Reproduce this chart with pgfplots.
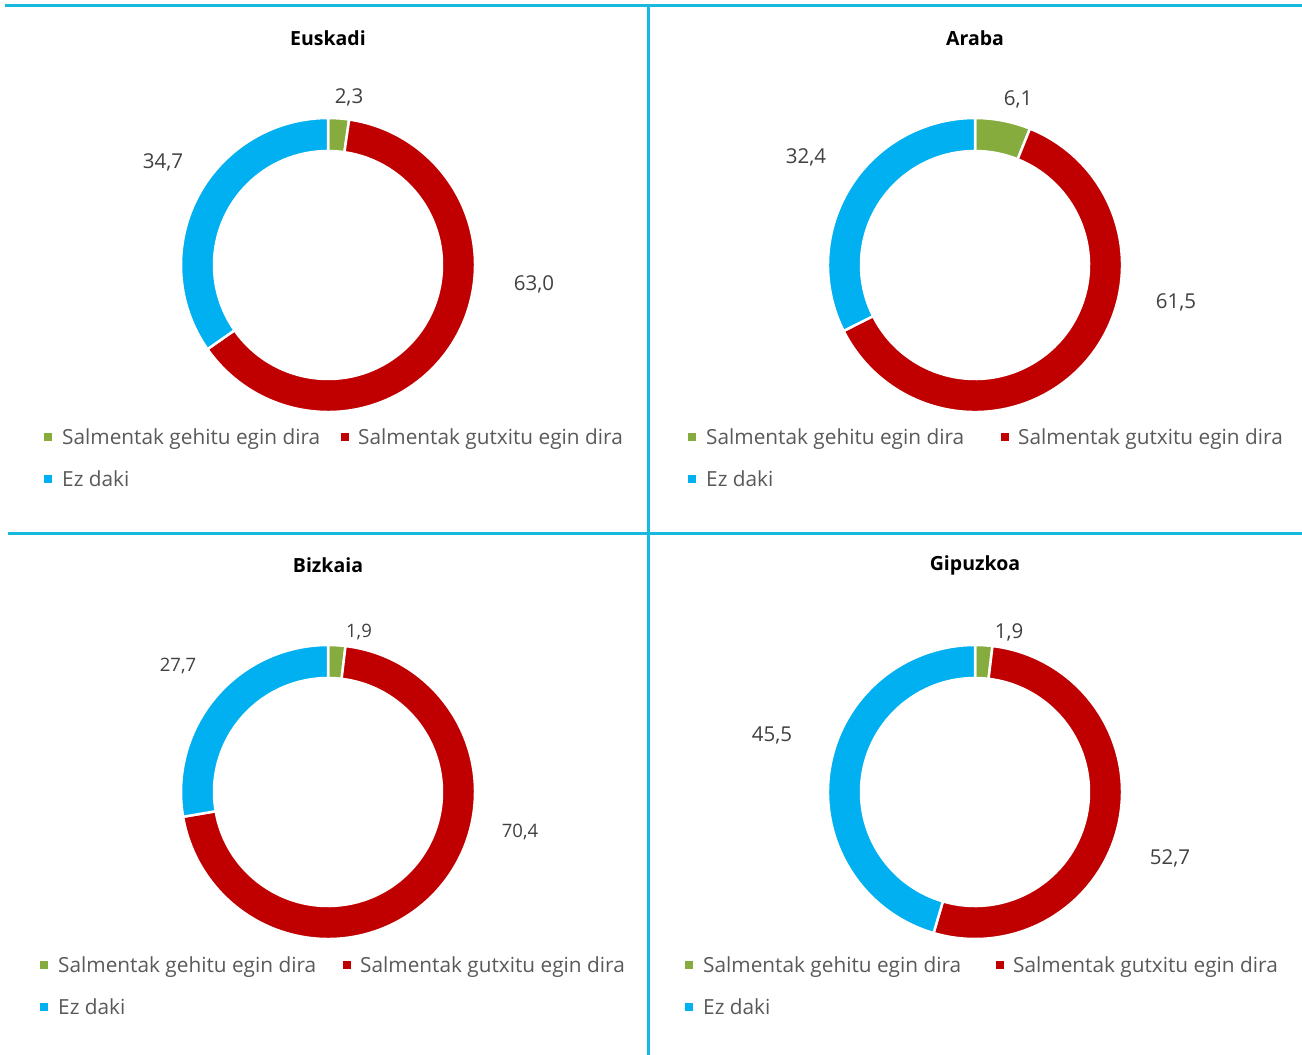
\documentclass[border=0pt]{standalone}
\usepackage{pgfplots}
\pgfplotsset{compat=1.18}
\usepackage{pgfplotstable}
\usepackage{fontspec}
\setmainfont{Open Sans}
\definecolor{cgreen}{HTML}{86AC3E}
\definecolor{cred}{HTML}{C00000}
\definecolor{cblue}{HTML}{00B0F0}
\definecolor{gridline}{HTML}{17B9DF}
\definecolor{lbltxt}{HTML}{404040}
\definecolor{legtxt}{HTML}{595959}

% one row per donut: centre, values (%), label positions (px), label size
\pgfplotstableread{
name     cx  cy  up   down dk   ux   uy  dx   dy  kx  ky  fs
Euskadi  328 265 2.3  63.0 34.7 349  97  534  284 163 162 20.5
Araba    975 265 6.1  61.5 32.4 1018 99  1176 302 806 157 20.5
Bizkaia  328 792 1.9  70.4 27.7 359  632 520  832 178 666 18.5
Gipuzkoa 975 792 1.9  52.7 45.5 1009 632 1170 858 772 735 20.5
}\donuts

\newcommand\seg[5]{%
  \filldraw[fill=#5, draw=white, line width=2.5pt]
    (axis cs:#1,#2) ++(#3:147pt) arc[start angle=#3, end angle=#4, radius=147pt]
    -- ++(#4:-33pt) arc[start angle=#4, end angle=#3, radius=114pt] -- cycle;
}
\newcommand\lbl[4]{%
  \node[lbltxt, font=\fontsize{#4}{#4}\selectfont] at (axis cs:#1,#2)
    {\pgfmathprintnumber[fixed, fixed zerofill, precision=1, use comma, assume math mode=true]{#3}};
}
\newcommand\ttl[3]{%
  \node[black, font=\fontsize{19.5}{19.5}\selectfont\bfseries] at (axis cs:#1,#2) {#3};
}
\newcommand\getv[2]{\pgfplotstablegetelem{#1}{#2}\of\donuts\expandafter\let\csname v#2\endcsname\pgfplotsretval}
\gdef\alldonuts{}
\newcommand\prepdonut[1]{%
  \getv{#1}{name}\getv{#1}{cx}\getv{#1}{cy}%
  \getv{#1}{up}\getv{#1}{down}\getv{#1}{dk}%
  \getv{#1}{ux}\getv{#1}{uy}\getv{#1}{dx}\getv{#1}{dy}\getv{#1}{kx}\getv{#1}{ky}\getv{#1}{fs}%
  \pgfmathsetmacro\tot{\vup+\vdown+\vdk}%
  \pgfmathsetmacro\aB{90-\vup/\tot*360}%
  \pgfmathsetmacro\aC{\aB-\vdown/\tot*360}%
  \pgfmathsetmacro\ty{\vcy-227}%
  \xdef\alldonuts{\unexpanded\expandafter{\alldonuts}%
    \noexpand\seg{\vcx}{\vcy}{90}{\aB}{cgreen}%
    \noexpand\seg{\vcx}{\vcy}{\aB}{\aC}{cred}%
    \noexpand\seg{\vcx}{\vcy}{\aC}{-270}{cblue}%
    \noexpand\lbl{\vux}{\vuy}{\vup}{\vfs}%
    \noexpand\lbl{\vdx}{\vdy}{\vdown}{\vfs}%
    \noexpand\lbl{\vkx}{\vky}{\vdk}{\vfs}%
    \noexpand\ttl{\vcx}{\ty}{\vname}%
  }%
}
\prepdonut{0}\prepdonut{1}\prepdonut{2}\prepdonut{3}

% legend: square x, text x, row y
\newcommand\legitem[5]{%
  \fill[#5] (axis cs:#1-4,#3-4) rectangle (axis cs:#1+4,#3+4);
  \node[legtxt, anchor=mid west, inner sep=0pt, font=\fontsize{20.8}{21}\selectfont] at (axis cs:#2,#3+4.5) {#4};
}
\newcommand\leg[4]{%
  \legitem{#1}{#1+14}{#3}{Salmentak gehitu egin dira}{cgreen}
  \legitem{#2}{#2+13}{#3}{Salmentak gutxitu egin dira}{cred}
  \legitem{#1}{#1+14}{#4}{Ez daki}{cblue}
}

\begin{document}
\begin{tikzpicture}
\begin{axis}[
  width=1302pt, height=1055pt, scale only axis,
  xmin=0, xmax=1302, ymin=0, ymax=1055, y dir=reverse,
  hide axis, clip=false,
]
% frame lines
\draw[gridline, line width=3pt] (axis cs:5,5) -- (axis cs:1302,5);
\draw[gridline, line width=3pt] (axis cs:8,533) -- (axis cs:1302,533);
\draw[gridline, line width=3pt] (axis cs:648,5) -- (axis cs:648,1055);

\alldonuts

\leg{48}{345}{437}{479}
\leg{692}{1005}{437}{479}
\leg{44}{347}{965}{1007}
\leg{689}{1000}{965}{1007}
\end{axis}
\pgfresetboundingbox
\useasboundingbox (current axis.south west) rectangle (current axis.north east);
\end{tikzpicture}
\end{document}
